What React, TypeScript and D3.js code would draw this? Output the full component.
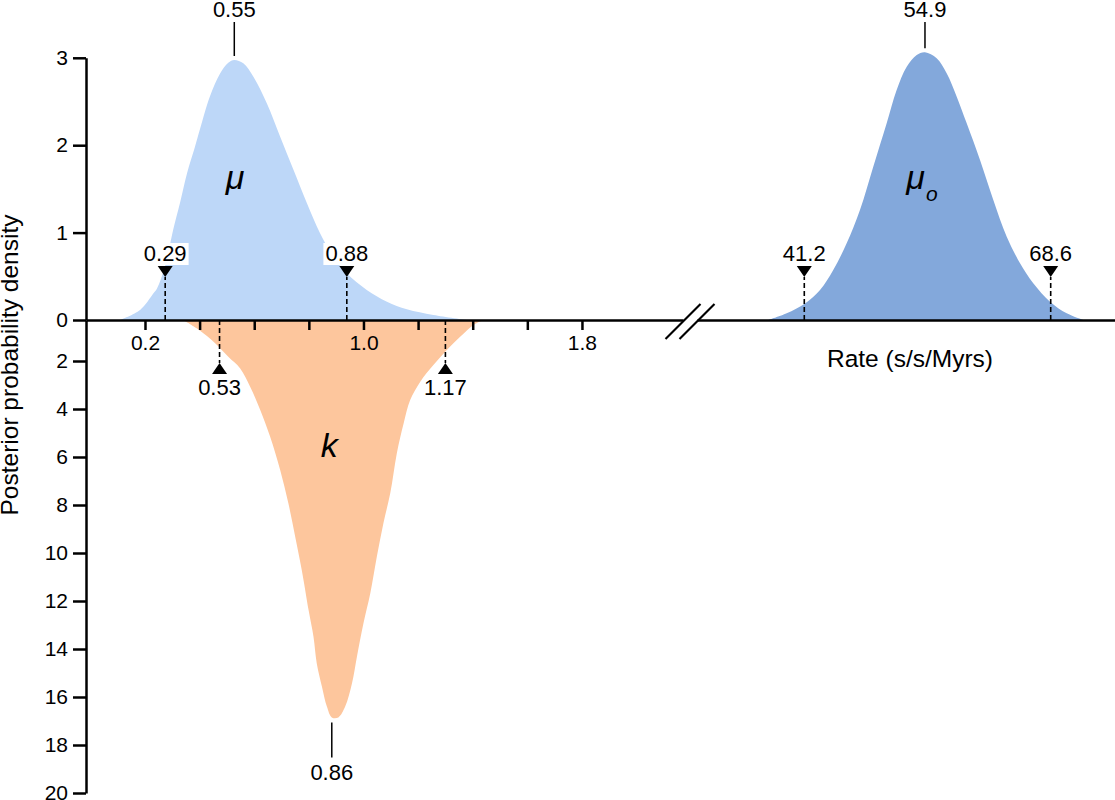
import * as React from 'react'
import * as d3 from 'd3'

const WIDTH = 1115
const HEIGHT = 800
const FONT = "'Liberation Sans', Arial, Helvetica, sans-serif"
const AXIS_Y = 320
const MARK_OFFSET = 43

// mu: posterior density, left panel, drawn above the axis
const muRate = [0.109, 0.182, 0.231, 0.244, 0.274, 0.303, 0.329, 0.354, 0.382, 0.402, 0.438, 0.475, 0.505, 0.527, 0.56, 0.597, 0.646, 0.695, 0.744, 0.793, 0.841, 0.89, 0.939, 1.012, 1.086, 1.159, 1.256, 1.379]
const muDensity = [0, 0.114, 0.305, 0.36, 0.62, 1.03, 1.35, 1.68, 1.97, 2.19, 2.56, 2.82, 2.944, 2.975, 2.937, 2.784, 2.479, 2.097, 1.716, 1.335, 0.992, 0.724, 0.534, 0.343, 0.209, 0.122, 0.057, 0]

// k: posterior density, left panel, drawn below the axis
const kRate = [0.34, 0.402, 0.451, 0.505, 0.548, 0.585, 0.622, 0.658, 0.695, 0.725, 0.75, 0.774, 0.799, 0.817, 0.829, 0.848, 0.866, 0.884, 0.908, 0.933, 0.958, 0.976, 1.0, 1.025, 1.049, 1.073, 1.098, 1.122, 1.147, 1.171, 1.208, 1.256, 1.305, 1.354, 1.403, 1.44]
const kDensity = [0, 0.52, 1.06, 1.79, 2.3, 3.07, 4.04, 5.15, 6.54, 7.93, 9.32, 10.71, 12.38, 13.49, 14.6, 15.57, 16.4, 16.85, 16.85, 16.4, 15.43, 14.32, 12.93, 11.68, 10.15, 8.76, 7.51, 5.85, 4.6, 3.63, 2.86, 2.17, 1.46, 0.82, 0.24, 0]

// mu_o: posterior density, right panel
const muoRate = [37.2, 39.24, 41.28, 42.95, 44.42, 45.91, 47.39, 48.87, 50.36, 51.47, 52.59, 53.7, 54.62, 55.92, 57.03, 58.15, 59.26, 60.74, 62.22, 63.71, 65.19, 66.66, 68.52, 70.38, 72.22]
const muoDensity = [0, 0.077, 0.19, 0.343, 0.572, 0.877, 1.259, 1.754, 2.25, 2.632, 2.898, 3.032, 3.063, 2.994, 2.822, 2.555, 2.25, 1.831, 1.373, 0.953, 0.649, 0.42, 0.21, 0.077, 0]

// 95% HPD bounds (label, position on the drawn axis)
const muHpdLabels = ['0.29', '0.88']
const muHpdAt = [0.274, 0.939]
const kHpdLabels = ['0.53', '1.17']
const kHpdAt = [0.473, 1.3]
const muoHpdLabels = ['41.2', '68.6']
const muoHpdAt = [41.2, 68.6]

// modes
const muModeLabel = '0.55'
const muModeAt = 0.527
const kModeLabel = '0.86'
const kModeAt = 0.884
const muoModeLabel = '54.9'
const muoModeAt = 54.62

const upperTicks = [0, 1, 2, 3]
const lowerTicks = [2, 4, 6, 8, 10, 12, 14, 16, 18, 20]
const rateTicks = [0.2, 0.4, 0.6, 0.8, 1.0, 1.2, 1.4, 1.6, 1.8]
const rateTickLabels = ['0.2', '', '', '', '1.0', '', '', '', '1.8']

const yUp = d3.scaleLinear().domain([0, 3]).range([AXIS_Y, 57.8])
const yDown = d3.scaleLinear().domain([0, 2, 20]).range([AXIS_Y, 361, 793])
const xLeft = d3.scaleLinear().domain([-0.016, 2.17]).range([86, 683])
const xRight = d3.scaleLinear().domain([29.27, 75.75]).range([697, 1115])

type G = d3.Selection<SVGGElement, unknown, null, undefined>

function styleAxis(g: G, size: number) {
  g.attr('font-family', FONT).attr('font-size', size)
  g.selectAll('path, line').attr('stroke', '#000').attr('stroke-width', 2.5)
  g.selectAll('text').attr('fill', '#000')
}

function drawHpd(
  g: G,
  x: d3.ScaleLinear<number, number>,
  at: number[],
  labels: string[],
  down: boolean
) {
  at.forEach((v, i) => {
    const cx = x(v)
    const apex = down ? AXIS_Y - MARK_OFFSET : AXIS_Y + MARK_OFFSET
    const base = down ? apex - 11 : apex + 11
    g.append('line')
      .attr('x1', cx)
      .attr('x2', cx)
      .attr('y1', AXIS_Y)
      .attr('y2', apex)
      .attr('stroke', '#000')
      .attr('stroke-width', 1.6)
      .attr('stroke-dasharray', '5,3')
    g.append('path')
      .attr('d', `M${cx - 7.5},${base}L${cx + 7.5},${base}L${cx},${apex}Z`)
      .attr('fill', '#000')
    const box = g.append('rect').attr('fill', '#fff')
    const t = g
      .append('text')
      .attr('x', cx)
      .attr('y', down ? base - 5 : base + 21)
      .attr('text-anchor', 'middle')
      .attr('font-family', FONT)
      .attr('font-size', 22)
      .text(labels[i])
    if (down) {
      const w = (t.node() as SVGTextElement).getComputedTextLength()
      box
        .attr('x', cx - w / 2 - 2)
        .attr('y', base - 23)
        .attr('width', w + 4)
        .attr('height', 22)
    }
  })
}

function drawChart(svgEl: SVGSVGElement) {
  const svg = d3.select(svgEl)
  svg.selectAll('*').remove()

  const upArea = (x: d3.ScaleLinear<number, number>) =>
    d3
      .area<[number, number]>()
      .x(d => x(d[0]))
      .y0(yUp(0))
      .y1(d => yUp(d[1]))
      .curve(d3.curveCatmullRom)

  svg
    .append('path')
    .datum(d3.zip(muRate, muDensity) as [number, number][])
    .attr('d', upArea(xLeft))
    .attr('fill', '#bdd7f8')
  svg
    .append('path')
    .datum(d3.zip(kRate, kDensity) as [number, number][])
    .attr(
      'd',
      d3
        .area<[number, number]>()
        .x(d => xLeft(d[0]))
        .y0(yDown(0))
        .y1(d => yDown(d[1]))
        .curve(d3.curveCatmullRom)
    )
    .attr('fill', '#fdc69d')
  svg
    .append('path')
    .datum(d3.zip(muoRate, muoDensity) as [number, number][])
    .attr('d', upArea(xRight))
    .attr('fill', '#83a8db')

  // y axis (upper and lower halves share the line)
  const yUpG = svg.append('g').attr('transform', `translate(${xLeft.range()[0]},0)`)
  yUpG.call(
    d3
      .axisLeft(yUp)
      .tickValues(upperTicks)
      .tickFormat(d3.format('d'))
      .tickSize(13)
      .tickSizeOuter(0)
      .tickPadding(5)
  )
  styleAxis(yUpG, 21)
  const yDownG = svg.append('g').attr('transform', `translate(${xLeft.range()[0]},0)`)
  yDownG.call(
    d3
      .axisLeft(yDown)
      .tickValues(lowerTicks)
      .tickFormat(d3.format('d'))
      .tickSize(13)
      .tickSizeOuter(0)
      .tickPadding(5)
  )
  styleAxis(yDownG, 21)

  // x axes with a break
  const xLeftG = svg.append('g').attr('transform', `translate(0,${AXIS_Y})`)
  xLeftG.call(
    d3
      .axisBottom(xLeft)
      .tickValues(rateTicks)
      .tickSize(10)
      .tickSizeOuter(0)
      .tickPadding(5)
      .tickFormat((d, i) => rateTickLabels[i])
  )
  styleAxis(xLeftG, 21)
  const xRightG = svg.append('g').attr('transform', `translate(0,${AXIS_Y})`)
  xRightG.call(d3.axisBottom(xRight).tickValues([]).tickSizeOuter(0))
  styleAxis(xRightG, 21)

  const breaks = [xLeft.range()[1], xRight.range()[0]]
  breaks.forEach(bx => {
    svg
      .append('line')
      .attr('x1', bx - 17.5)
      .attr('y1', AXIS_Y + 19)
      .attr('x2', bx + 17.5)
      .attr('y2', AXIS_Y - 16)
      .attr('stroke', '#000')
      .attr('stroke-width', 2.2)
  })

  // HPD markers
  const marks = svg.append('g')
  drawHpd(marks, xLeft, muHpdAt, muHpdLabels, true)
  drawHpd(marks, xLeft, kHpdAt, kHpdLabels, false)
  drawHpd(marks, xRight, muoHpdAt, muoHpdLabels, true)

  // modes
  const modes = [
    { x: xLeft(muModeAt), y: yUp(d3.max(muDensity) as number), label: muModeLabel },
    { x: xRight(muoModeAt), y: yUp(d3.max(muoDensity) as number), label: muoModeLabel }
  ]
  modes.forEach(m => {
    svg
      .append('line')
      .attr('x1', m.x)
      .attr('x2', m.x)
      .attr('y1', 22)
      .attr('y2', m.y - 4)
      .attr('stroke', '#000')
      .attr('stroke-width', 1.5)
    svg
      .append('text')
      .attr('x', m.x)
      .attr('y', 17)
      .attr('text-anchor', 'middle')
      .attr('font-family', FONT)
      .attr('font-size', 22)
      .text(m.label)
  })
  const kPeakY = yDown(d3.max(kDensity) as number)
  svg
    .append('line')
    .attr('x1', xLeft(kModeAt))
    .attr('x2', xLeft(kModeAt))
    .attr('y1', kPeakY + 5)
    .attr('y2', kPeakY + 40)
    .attr('stroke', '#000')
    .attr('stroke-width', 1.5)
  svg
    .append('text')
    .attr('x', xLeft(kModeAt))
    .attr('y', kPeakY + 63)
    .attr('text-anchor', 'middle')
    .attr('font-family', FONT)
    .attr('font-size', 22)
    .text(kModeLabel)

  // parameter names
  svg
    .append('text')
    .attr('x', xLeft(0.53))
    .attr('y', yUp(1.5))
    .attr('text-anchor', 'middle')
    .attr('font-family', FONT)
    .attr('font-style', 'italic')
    .attr('font-size', 34)
    .text('μ')
  svg
    .append('text')
    .attr('x', xLeft(0.875))
    .attr('y', yDown(6))
    .attr('text-anchor', 'middle')
    .attr('font-family', FONT)
    .attr('font-style', 'italic')
    .attr('font-size', 34)
    .text('k')
  const muo = svg
    .append('text')
    .attr('x', xRight(52.55))
    .attr('y', yUp(1.5))
    .attr('font-family', FONT)
    .attr('font-style', 'italic')
    .attr('font-size', 34)
  muo.append('tspan').text('μ')
  muo.append('tspan').attr('font-size', 21).attr('dy', 12).attr('dx', 1).text('o')

  // axis titles
  svg
    .append('text')
    .attr('transform', `translate(18,365) rotate(-90)`)
    .attr('text-anchor', 'middle')
    .attr('font-family', FONT)
    .attr('font-size', 24.5)
    .text('Posterior probability density')
  svg
    .append('text')
    .attr('x', 910)
    .attr('y', 367)
    .attr('text-anchor', 'middle')
    .attr('font-family', FONT)
    .attr('font-size', 24.5)
    .text('Rate (s/s/Myrs)')
}

export default function App() {
  const ref = React.useRef<SVGSVGElement>(null)
  React.useEffect(() => {
    if (ref.current) drawChart(ref.current)
  }, [])
  return (
    <svg
      ref={ref}
      width={WIDTH}
      height={HEIGHT}
      style={{ position: 'absolute', left: 0, top: 0, display: 'block', background: '#fff' }}
    />
  )
}
